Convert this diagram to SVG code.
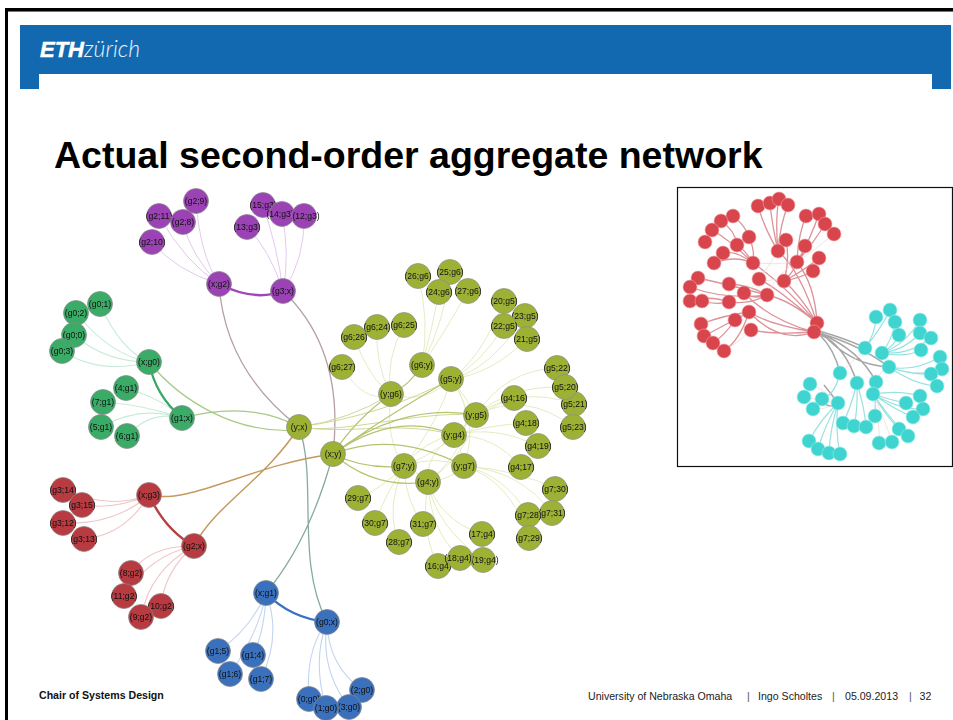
<svg xmlns="http://www.w3.org/2000/svg" width="953" height="720" viewBox="0 0 953 720">
<style>
text{font-family:"Liberation Sans",Arial,sans-serif}
.e{fill:none}
.n text{font-size:8.6px;text-anchor:middle;fill:#111}
.n circle{r:12.5px;stroke:#8a8a8a;stroke-width:.7}
.p circle{fill:#9b42b4}.g circle{fill:#3bab67}.r circle{fill:#b73a40}.b circle{fill:#3b70bc}.o circle{fill:#9db236}
.pl{stroke:#e3c9ee;stroke-width:1}.gl{stroke:#c8ecd8;stroke-width:1.1}.rl{stroke:#f0c6c6;stroke-width:1.1}.bl{stroke:#c2d5f0;stroke-width:1.1}.ol{stroke:#e4ecc0;stroke-width:1}
.pt{stroke:#a045ba;stroke-width:2.4}.gt{stroke:#35a862;stroke-width:2.2}.rt{stroke:#b73f44;stroke-width:2.4}.bt{stroke:#3c70c2;stroke-width:2.4}
.om{stroke:#cdd89a;stroke-width:1}.oh{stroke:#b4c470;stroke-width:1.2}.br{stroke:#b59fa6;stroke-width:1.3}.lg{stroke:#a8c987;stroke-width:1.2}.or{stroke:#c49a60;stroke-width:1.5}.tl{stroke:#88ab9c;stroke-width:1.3}
.ired{stroke:#dc9298;stroke-width:1.3}.iredl{stroke:#f3d8da;stroke-width:.8}.icy{stroke:#98e2de;stroke-width:1.2}.igr{stroke:#a6a6a6;stroke-width:1.5}
.ir{fill:#d9454d;stroke:#eea0a4;stroke-width:.6}.ic{fill:#40d4d0;stroke:#a0ecea;stroke-width:.6}
</style>
<defs>
<filter id="soft" x="-5%" y="-5%" width="110%" height="110%"><feGaussianBlur stdDeviation=".3"/></filter>
<filter id="soft2" x="-5%" y="-5%" width="110%" height="110%"><feGaussianBlur stdDeviation=".55"/></filter>
</defs>
<rect width="953" height="720" fill="#fff"/>
<g id="frame">
<rect x="5" y="8" width="948" height="3" fill="#000"/>
<rect x="5" y="8" width="3" height="712" fill="#000"/>
<rect x="8" y="11" width="945" height="1" fill="#777"/>
</g>
<g id="header">
<path d="M20,25H951V89H932V74H39V89H20Z" fill="#1369b0"/>
<text x="40" y="57" font-size="22" font-weight="700" font-style="italic" fill="#fff" stroke="#fff" stroke-width=".5">ETH</text>
<text x="84" y="57" font-size="23" font-style="italic" font-weight="300" fill="#eaf2f9" style="font-family:Lato,'Liberation Sans',sans-serif">zürich</text>
</g>
<text id="title" x="54" y="168" font-size="37.5" font-weight="700" fill="#000">Actual second-order aggregate network</text>

<g filter="url(#soft)">
<g id="connectors" class="e">
<path class="pl" d="M219,284Q175,270 152,242M219,284Q185,262 159,216M219,284Q190,255 183,222M219,284Q200,255 196,201M283,291Q270,250 247,227M283,291Q278,250 263,205M283,291Q290,255 282,214M283,291Q305,260 304,216"/>
<path class="pt" d="M219,284Q255,302 283,291"/>
<path class="br" d="M219,284Q225,370 299,427M283,291Q345,350 333,454"/>
<path class="gl" d="M149,362Q120,350 100,304M149,362Q110,355 76,313M149,362Q105,362 74,335M149,362Q100,375 62,351M182,418Q165,400 126,388M182,418Q145,405 103,402M182,418Q140,405 101,427M182,418Q150,410 127,436"/>
<path class="gt" d="M149,362Q155,395 182,418"/>
<path class="lg" d="M149,362C180,400 235,435 299,430M182,418Q250,400 299,427"/>
<path class="or" d="M149,495C190,505 250,465 333,454M194,546C215,505 265,480 299,427"/>
<path class="tl" d="M266,593Q310,540 333,454M327,622C295,560 318,480 299,427"/>
<path class="bt" d="M266,593Q290,618 327,622"/>
<path class="bl" d="M266,593Q250,630 218,651M266,593Q265,630 253,655M266,593Q260,630 230,674M266,593Q282,635 261,679M327,622Q305,650 309,699M327,622Q312,660 326,708M327,622Q320,670 349,707M327,622Q328,665 362,690"/>
<path class="rl" d="M149,495Q110,510 63,490M149,495Q115,510 82,505M149,495Q115,525 63,523M149,495Q125,535 84,539M194,546Q150,545 131,573M194,546Q150,555 124,596M194,546Q150,570 141,617M194,546Q165,570 161,606"/>
<path class="rt" d="M149,495Q165,530 194,546"/>
<path class="ol" d="M451,379Q480,360 504,301M451,379Q480,365 504,326M451,379Q490,370 525,316M451,379Q490,375 527,339M476,415Q505,370 557,368M476,415Q510,385 565,387M476,415Q520,385 574,404M476,415Q525,390 573,427M454,435Q480,410 514,398M454,435Q490,425 526,423M454,435Q495,425 538,446M454,435Q495,435 521,467M428,482Q440,520 482,534M428,482Q430,530 460,558M428,482Q435,525 483,560M428,482Q420,530 438,566M464,466Q520,470 555,489M464,466Q520,470 552,513M464,466Q505,475 528,515M464,466Q510,480 529,538M404,466Q380,490 358,498M404,466Q385,495 375,523M404,466Q405,500 423,524M404,466Q385,510 399,542M391,394Q375,365 377,327M391,394Q385,360 404,325M391,394Q370,380 354,337M391,394Q365,405 342,367M422,365Q430,320 418,276M422,365Q432,330 439,292M422,365Q445,320 450,272M422,365Q440,340 468,291"/>
<path class="ol" d="M391,394Q385,440 404,466M391,394Q425,405 451,379M451,379Q480,420 464,466M451,379Q490,430 428,482M451,379Q440,420 404,466M451,379Q465,395 476,415M476,415Q445,450 404,466M476,415Q470,450 428,482M454,435Q425,440 404,466M454,435Q425,455 428,482M404,466Q435,455 464,466M428,482Q450,480 464,466M404,466Q415,470 428,482M454,435Q462,450 464,466"/>
<path class="om" d="M299,427C340,435 420,410 476,415M299,427C350,435 400,420 454,435M299,427Q350,420 391,394M299,427Q385,415 451,379"/>
<path class="oh" d="M333,454Q355,420 391,394M333,454Q380,420 451,379M333,454C370,425 420,405 476,415M333,454Q395,410 454,435M333,454Q395,430 464,466M333,454Q365,470 404,466M333,454Q375,490 428,482M391,394Q410,385 422,365"/>
</g>
<g id="n-g2-9" class="n p"><circle cx="196" cy="201"/><text x="196" y="204">(g2;9)</text></g>
<g id="n-g2-11" class="n p"><circle cx="159" cy="216"/><text x="159" y="219">(g2;11)</text></g>
<g id="n-g2-8" class="n p"><circle cx="183" cy="222"/><text x="183" y="225">(g2;8)</text></g>
<g id="n-g2-10" class="n p"><circle cx="152" cy="242"/><text x="152" y="245">(g2;10)</text></g>
<g id="n-x-g2" class="n p"><circle cx="219" cy="284"/><text x="219" y="287">(x;g2)</text></g>
<g id="n-g3-x" class="n p"><circle cx="283" cy="291"/><text x="283" y="294">(g3;x)</text></g>
<g id="n-15-g3" class="n p"><circle cx="263" cy="205"/><text x="263" y="208">(15;g3)</text></g>
<g id="n-13-g3" class="n p"><circle cx="247" cy="227"/><text x="247" y="230">(13;g3)</text></g>
<g id="n-14-g3" class="n p"><circle cx="282" cy="214"/><text x="280" y="217">(14;g3)</text></g>
<g id="n-12-g3" class="n p"><circle cx="304" cy="216"/><text x="306" y="219">(12;g3)</text></g>

<g id="n-g0-1" class="n g"><circle cx="100" cy="304"/><text x="100" y="307">(g0;1)</text></g>
<g id="n-g0-2" class="n g"><circle cx="76" cy="313"/><text x="76" y="316">(g0;2)</text></g>
<g id="n-g0-0" class="n g"><circle cx="74" cy="335"/><text x="74" y="338">(g0;0)</text></g>
<g id="n-g0-3" class="n g"><circle cx="62" cy="351"/><text x="62" y="354">(g0;3)</text></g>
<g id="n-x-g0" class="n g"><circle cx="149" cy="362"/><text x="149" y="365">(x;g0)</text></g>
<g id="n-4-g1" class="n g"><circle cx="126" cy="388"/><text x="126" y="391">(4;g1)</text></g>
<g id="n-7-g1" class="n g"><circle cx="103" cy="402"/><text x="103" y="405">(7;g1)</text></g>
<g id="n-5-g1" class="n g"><circle cx="101" cy="427"/><text x="101" y="430">(5;g1)</text></g>
<g id="n-6-g1" class="n g"><circle cx="127" cy="436"/><text x="127" y="439">(6;g1)</text></g>
<g id="n-g1-x" class="n g"><circle cx="182" cy="418"/><text x="182" y="421">(g1;x)</text></g>

<g id="n-g3-14" class="n r"><circle cx="63" cy="490"/><text x="63" y="493">(g3;14)</text></g>
<g id="n-g3-15" class="n r"><circle cx="82" cy="505"/><text x="82" y="508">(g3;15)</text></g>
<g id="n-g3-12" class="n r"><circle cx="63" cy="523"/><text x="63" y="526">(g3;12)</text></g>
<g id="n-g3-13" class="n r"><circle cx="84" cy="539"/><text x="84" y="542">(g3;13)</text></g>
<g id="n-x-g3" class="n r"><circle cx="149" cy="495"/><text x="149" y="498">(x;g3)</text></g>
<g id="n-g2-x" class="n r"><circle cx="194" cy="546"/><text x="194" y="549">(g2;x)</text></g>
<g id="n-8-g2" class="n r"><circle cx="131" cy="573"/><text x="131" y="576">(8;g2)</text></g>
<g id="n-11-g2" class="n r"><circle cx="124" cy="596"/><text x="124" y="599">(11;g2)</text></g>
<g id="n-10-g2" class="n r"><circle cx="161" cy="606"/><text x="161" y="609">(10;g2)</text></g>
<g id="n-9-g2" class="n r"><circle cx="141" cy="617"/><text x="141" y="620">(9;g2)</text></g>

<g id="n-x-g1" class="n b"><circle cx="266" cy="593"/><text x="266" y="596">(x;g1)</text></g>
<g id="n-g0-x" class="n b"><circle cx="327" cy="622"/><text x="327" y="625">(g0;x)</text></g>
<g id="n-g1-5" class="n b"><circle cx="218" cy="651"/><text x="218" y="654">(g1;5)</text></g>
<g id="n-g1-4" class="n b"><circle cx="253" cy="655"/><text x="253" y="658">(g1;4)</text></g>
<g id="n-g1-6" class="n b"><circle cx="230" cy="674"/><text x="230" y="677">(g1;6)</text></g>
<g id="n-g1-7" class="n b"><circle cx="261" cy="679"/><text x="261" y="682">(g1;7)</text></g>
<g id="n-2-g0" class="n b"><circle cx="362" cy="690"/><text x="362" y="693">(2;g0)</text></g>
<g id="n-0-g0" class="n b"><circle cx="309" cy="699"/><text x="309" y="702">(0;g0)</text></g>
<g id="n-3-g0" class="n b"><circle cx="349" cy="707"/><text x="349" y="710">(3;g0)</text></g>
<g id="n-1-g0" class="n b"><circle cx="326" cy="708"/><text x="326" y="711">(1;g0)</text></g>

<g id="n-y-x" class="n o"><circle cx="299" cy="427"/><text x="299" y="430">(y;x)</text></g>
<g id="n-x-y" class="n o"><circle cx="333" cy="454"/><text x="333" y="457">(x;y)</text></g>
<g id="n-26-g6" class="n o"><circle cx="418" cy="276"/><text x="418" y="279">(26;g6)</text></g>
<g id="n-25-g6" class="n o"><circle cx="450" cy="272"/><text x="450" y="275">(25;g6)</text></g>
<g id="n-24-g6" class="n o"><circle cx="439" cy="292"/><text x="439" y="295">(24;g6)</text></g>
<g id="n-27-g6" class="n o"><circle cx="468" cy="291"/><text x="468" y="294">(27;g6)</text></g>
<g id="n-20-g5" class="n o"><circle cx="504" cy="301"/><text x="504" y="304">(20;g5)</text></g>
<g id="n-23-g5" class="n o"><circle cx="525" cy="316"/><text x="525" y="319">(23;g5)</text></g>
<g id="n-22-g5" class="n o"><circle cx="504" cy="326"/><text x="504" y="329">(22;g5)</text></g>
<g id="n-21-g5" class="n o"><circle cx="527" cy="339"/><text x="527" y="342">(21;g5)</text></g>
<g id="n-g6-24" class="n o"><circle cx="377" cy="327"/><text x="377" y="330">(g6;24)</text></g>
<g id="n-g6-25" class="n o"><circle cx="404" cy="325"/><text x="404" y="328">(g6;25)</text></g>
<g id="n-g6-26" class="n o"><circle cx="354" cy="337"/><text x="354" y="340">(g6;26)</text></g>
<g id="n-g6-27" class="n o"><circle cx="342" cy="367"/><text x="342" y="370">(g6;27)</text></g>
<g id="n-g6-y" class="n o"><circle cx="422" cy="365"/><text x="422" y="368">(g6;y)</text></g>
<g id="n-g5-y" class="n o"><circle cx="451" cy="379"/><text x="451" y="382">(g5;y)</text></g>
<g id="n-y-g6" class="n o"><circle cx="391" cy="394"/><text x="391" y="397">(y;g6)</text></g>
<g id="n-g5-22" class="n o"><circle cx="557" cy="368"/><text x="557" y="371">(g5;22)</text></g>
<g id="n-g5-21" class="n o"><circle cx="574" cy="404"/><text x="574" y="407">(g5;21)</text></g>
<g id="n-g5-20" class="n o"><circle cx="565" cy="387"/><text x="565" y="390">(g5;20)</text></g>
<g id="n-g5-23" class="n o"><circle cx="573" cy="427"/><text x="573" y="430">(g5;23)</text></g>
<g id="n-g4-16" class="n o"><circle cx="514" cy="398"/><text x="514" y="401">(g4;16)</text></g>
<g id="n-y-g5" class="n o"><circle cx="476" cy="415"/><text x="476" y="418">(y;g5)</text></g>
<g id="n-g4-18" class="n o"><circle cx="526" cy="423"/><text x="526" y="426">(g4;18)</text></g>
<g id="n-y-g4" class="n o"><circle cx="454" cy="435"/><text x="454" y="438">(y;g4)</text></g>
<g id="n-g4-19" class="n o"><circle cx="538" cy="446"/><text x="538" y="449">(g4;19)</text></g>
<g id="n-g7-y" class="n o"><circle cx="404" cy="466"/><text x="404" y="469">(g7;y)</text></g>
<g id="n-y-g7" class="n o"><circle cx="464" cy="466"/><text x="464" y="469">(y;g7)</text></g>
<g id="n-g4-17" class="n o"><circle cx="521" cy="467"/><text x="521" y="470">(g4;17)</text></g>
<g id="n-g4-y" class="n o"><circle cx="428" cy="482"/><text x="428" y="485">(g4;y)</text></g>
<g id="n-g7-30" class="n o"><circle cx="555" cy="489"/><text x="555" y="492">(g7;30)</text></g>
<g id="n-g7-31" class="n o"><circle cx="552" cy="513"/><text x="552" y="516">(g7;31)</text></g>
<g id="n-g7-28" class="n o"><circle cx="528" cy="515"/><text x="528" y="518">(g7;28)</text></g>
<g id="n-g7-29" class="n o"><circle cx="529" cy="538"/><text x="529" y="541">(g7;29)</text></g>
<g id="n-29-g7" class="n o"><circle cx="358" cy="498"/><text x="358" y="501">(29;g7)</text></g>
<g id="n-30-g7" class="n o"><circle cx="375" cy="523"/><text x="375" y="526">(30;g7)</text></g>
<g id="n-31-g7" class="n o"><circle cx="423" cy="524"/><text x="423" y="527">(31;g7)</text></g>
<g id="n-28-g7" class="n o"><circle cx="399" cy="542"/><text x="399" y="545">(28;g7)</text></g>
<g id="n-17-g4" class="n o"><circle cx="482" cy="534"/><text x="482" y="537">(17;g4)</text></g>
<g id="n-16-g4" class="n o"><circle cx="438" cy="566"/><text x="438" y="569">(16;g4)</text></g>
<g id="n-19-g4" class="n o"><circle cx="483" cy="560"/><text x="485" y="563">(19;g4)</text></g>
<g id="n-18-g4" class="n o"><circle cx="460" cy="558"/><text x="458" y="561">(18;g4)</text></g>
</g>

<rect id="inset-frame" x="677.5" y="187.5" width="275" height="279" fill="#fff" stroke="#111" stroke-width="1.2"/>
<g id="inset" filter="url(#soft2)">
<g id="inset-connectors" class="e">
<path class="ired" d="M817,323Q800,295 784,281M817,323Q800,270 778,251M817,323Q815,285 797,262M817,323Q790,300 767,295M814,332Q770,325 749,312M814,332Q780,345 749,312M817,323Q780,290 759,279M817,323Q785,285 753,263M814,332Q770,320 744,293M814,332Q775,335 751,330"/>
<path class="ired" d="M753,263Q755,250 749,237M753,263Q745,250 737,245M753,263Q735,250 723,253M753,263Q735,255 714,263M749,237Q745,225 733,216M737,245Q735,230 721,221M753,263Q730,240 712,230M778,251Q765,230 758,206M778,251Q772,225 770,203M778,251Q775,220 779,199M778,251Q780,225 788,205M797,262Q798,235 806,216M797,262Q810,240 819,214M797,262Q812,245 825,224M784,281Q790,260 786,240M784,281Q800,265 805,246M784,281Q805,270 819,258M784,281Q800,278 813,271M767,295Q730,285 698,278M767,295Q725,300 690,287M729,302Q710,295 690,301M729,302Q715,305 702,301M767,295Q750,285 729,284M767,295Q755,300 744,293M767,295Q750,305 729,302M749,312Q725,315 701,324M749,312Q725,325 704,336M735,320Q725,335 713,343M749,312Q740,340 724,351"/>
<path class="iredl" d="M797,262Q815,250 834,234M759,279Q770,265 778,251M767,295Q780,270 797,262M753,263Q775,265 797,262M744,293Q765,275 784,281M751,330Q735,345 724,351"/>
<path class="igr" d="M819,331Q850,340 865,348M819,333Q860,345 889,367M819,334Q845,345 857,383M819,333Q860,350 876,382M819,334Q835,350 840,373M822,333Q850,365 889,367M822,401Q830,410 838,403M824,385Q832,395 838,403"/>
<path class="icy" d="M865,348Q875,335 876,317M865,348Q880,330 890,310M882,353Q892,340 895,322M882,353Q895,345 899,335M882,353Q905,345 920,320M882,353Q905,350 920,333M882,353Q910,355 931,338M882,353Q905,358 921,350M889,367Q915,372 940,357M889,367Q920,378 942,369M889,367Q910,375 931,374M889,367Q915,385 937,386M840,373Q835,395 822,399M838,403Q820,420 809,441M838,403Q825,425 818,449M838,403Q830,430 829,453M838,403Q835,430 840,454M857,383Q850,410 843,423M857,383Q858,410 854,426M857,383Q865,410 866,427M876,382Q875,400 875,416M873,394Q900,390 920,396M873,394Q890,400 906,403M873,394Q900,410 923,409M873,394Q895,410 913,417M873,394Q885,415 899,429M873,394Q895,425 908,436"/>
<path class="iredl" d="M873,394Q880,420 879,443M873,394Q885,420 892,442M838,403Q825,390 810,384M838,403Q820,400 804,397M838,403Q825,410 813,409M840,373Q860,355 865,348M876,382Q880,370 889,367"/>
</g>
<g id="inset-red-nodes" class="ir">
<circle id="ir1" cx="758" cy="206" r="7"/><circle id="ir2" cx="770" cy="203" r="7"/><circle id="ir3" cx="779" cy="199" r="7"/><circle id="ir4" cx="788" cy="205" r="7"/><circle id="ir5" cx="806" cy="216" r="7"/><circle id="ir6" cx="819" cy="214" r="7"/><circle id="ir7" cx="825" cy="224" r="7"/><circle id="ir8" cx="834" cy="234" r="7"/><circle id="ir9" cx="733" cy="216" r="7"/><circle id="ir10" cx="721" cy="221" r="7"/><circle id="ir11" cx="712" cy="230" r="7"/><circle id="ir12" cx="705" cy="242" r="7"/><circle id="ir13" cx="749" cy="237" r="7"/><circle id="ir14" cx="737" cy="245" r="7"/><circle id="ir15" cx="723" cy="253" r="7"/><circle id="ir16" cx="714" cy="263" r="7"/><circle id="ir17" cx="753" cy="263" r="7"/><circle id="ir18" cx="778" cy="251" r="7"/><circle id="ir19" cx="786" cy="240" r="7"/><circle id="ir20" cx="805" cy="246" r="7"/><circle id="ir21" cx="797" cy="262" r="7"/><circle id="ir22" cx="819" cy="258" r="7"/><circle id="ir23" cx="813" cy="271" r="7"/><circle id="ir24" cx="784" cy="281" r="7"/><circle id="ir25" cx="759" cy="279" r="7"/><circle id="ir26" cx="698" cy="278" r="7"/><circle id="ir27" cx="690" cy="287" r="7"/><circle id="ir28" cx="690" cy="301" r="7"/><circle id="ir29" cx="702" cy="301" r="7"/><circle id="ir30" cx="729" cy="284" r="7"/><circle id="ir31" cx="744" cy="293" r="7"/><circle id="ir32" cx="729" cy="302" r="7"/><circle id="ir33" cx="767" cy="295" r="7"/><circle id="ir34" cx="749" cy="312" r="7"/><circle id="ir35" cx="735" cy="320" r="7"/><circle id="ir36" cx="751" cy="330" r="7"/><circle id="ir37" cx="701" cy="324" r="7"/><circle id="ir38" cx="704" cy="336" r="7"/><circle id="ir39" cx="713" cy="343" r="7"/><circle id="ir40" cx="724" cy="351" r="7"/><circle id="ir41" cx="817" cy="323" r="7"/><circle id="ir42" cx="814" cy="332" r="7"/>
</g>
<g id="inset-cyan-nodes" class="ic">
<circle id="ic1" cx="876" cy="317" r="7"/><circle id="ic2" cx="890" cy="310" r="7"/><circle id="ic3" cx="895" cy="322" r="7"/><circle id="ic4" cx="899" cy="335" r="7"/><circle id="ic5" cx="920" cy="320" r="7"/><circle id="ic6" cx="920" cy="333" r="7"/><circle id="ic7" cx="931" cy="338" r="7"/><circle id="ic8" cx="921" cy="350" r="7"/><circle id="ic9" cx="940" cy="357" r="7"/><circle id="ic10" cx="942" cy="369" r="7"/><circle id="ic11" cx="931" cy="374" r="7"/><circle id="ic12" cx="937" cy="386" r="7"/><circle id="ic13" cx="865" cy="348" r="7"/><circle id="ic14" cx="882" cy="353" r="7"/><circle id="ic15" cx="889" cy="367" r="7"/><circle id="ic16" cx="840" cy="373" r="7"/><circle id="ic17" cx="857" cy="383" r="7"/><circle id="ic18" cx="876" cy="382" r="7"/><circle id="ic19" cx="873" cy="394" r="7"/><circle id="ic20" cx="838" cy="403" r="7"/><circle id="ic21" cx="822" cy="399" r="7"/><circle id="ic22" cx="810" cy="384" r="7"/><circle id="ic23" cx="804" cy="397" r="7"/><circle id="ic24" cx="813" cy="409" r="7"/><circle id="ic25" cx="875" cy="416" r="7"/><circle id="ic26" cx="843" cy="423" r="7"/><circle id="ic27" cx="854" cy="426" r="7"/><circle id="ic28" cx="866" cy="427" r="7"/><circle id="ic29" cx="920" cy="396" r="7"/><circle id="ic30" cx="906" cy="403" r="7"/><circle id="ic31" cx="923" cy="409" r="7"/><circle id="ic32" cx="913" cy="417" r="7"/><circle id="ic33" cx="899" cy="429" r="7"/><circle id="ic34" cx="908" cy="436" r="7"/><circle id="ic35" cx="879" cy="443" r="7"/><circle id="ic36" cx="892" cy="442" r="7"/><circle id="ic37" cx="809" cy="441" r="7"/><circle id="ic38" cx="818" cy="449" r="7"/><circle id="ic39" cx="829" cy="453" r="7"/><circle id="ic40" cx="840" cy="454" r="7"/>
</g>
</g>

<g id="footer">
<text x="39" y="699" font-size="10.6" font-weight="700" fill="#111">Chair of Systems Design</text>
<text x="588" y="700" font-size="10.6" fill="#222">University of Nebraska Omaha</text>
<text x="747" y="700" font-size="10.6" fill="#555">|</text>
<text x="758" y="700" font-size="10.6" fill="#222">Ingo Scholtes</text>
<text x="832" y="700" font-size="10.6" fill="#555">|</text>
<text x="845" y="700" font-size="10.6" fill="#222">05.09.2013</text>
<text x="909" y="700" font-size="10.6" fill="#555">|</text>
<text x="919.5" y="700" font-size="10.6" fill="#222">32</text>
</g>
</svg>
